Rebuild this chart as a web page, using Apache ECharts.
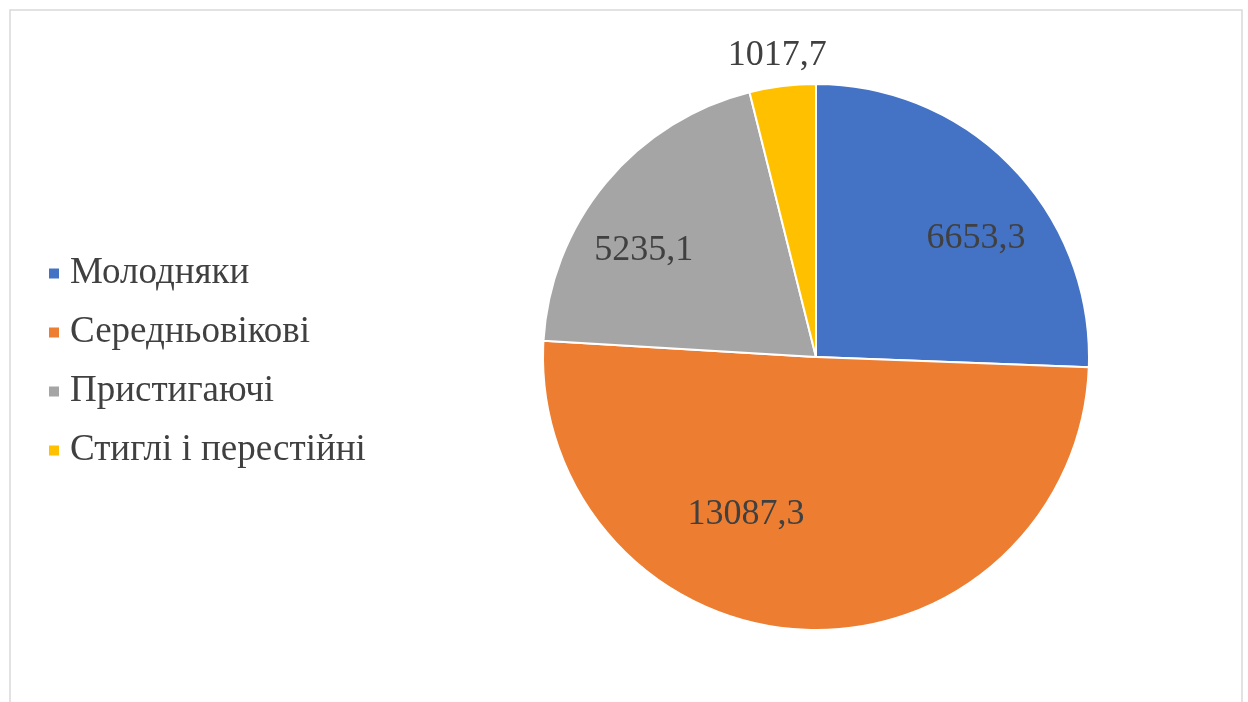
<!DOCTYPE html>
<html><head><meta charset="utf-8">
<script src="https://cdn.jsdelivr.net/npm/echarts@6/dist/echarts.min.js"></script>
<style>html,body{margin:0;padding:0;background:#fff}#c{width:1248px;height:702px}</style>
</head><body><div id="c"></div>
<script>
const categories = ['Молодняки', 'Середньовікові', 'Пристигаючі', 'Стиглі і перестійні'];
const values = [6653.3, 13087.3, 5235.1, 1017.7];
const colors = ['#4472C4', '#ED7D31', '#A5A5A5', '#FFC000'];

const fmt = v => String(v.toFixed(1)).replace('.', ',');
const font = '"Liberation Serif", "DejaVu Serif", serif';
const chart = echarts.init(document.getElementById('c'), null, {renderer: 'canvas'});
const data = categories.map((n, i) => ({name: n, value: values[i], itemStyle: {color: colors[i]}}));
const labelData = categories.map((n, i) => ({name: n, value: values[i]}));
// label nudges (style only)
const labelShift = [[26, 11], [-61, -28], [-29, 12], [-16, -117]];

chart.setOption({
  animation: false,
  backgroundColor: '#fff',
  graphic: [{type: 'rect', shape: {x: 10, y: 10, width: 1232, height: 700}, style: {fill: 'none', stroke: '#d9d9d9', lineWidth: 1.5}}],
  legend: {
    orient: 'vertical', left: 42, top: 250, itemWidth: 12, itemHeight: 12, itemGap: 22,
    icon: 'rect', data: categories,
    textStyle: {fontFamily: font, fontSize: 37, color: '#404040', padding: [0, 0, 0, 5]}
  },
  series: [{
    type: 'pie', center: [816, 357], radius: [0, 273], startAngle: 90, clockwise: true,
    data: data, silent: true,
    itemStyle: {borderColor: '#fff', borderWidth: 2},
    label: {show: false}, labelLine: {show: false}
  }, {
    type: 'pie', center: [816, 357], radius: [150, 216], startAngle: 90, clockwise: true,
    data: labelData, silent: true, legendHoverLink: false,
    itemStyle: {color: 'rgba(0,0,0,0)'},
    label: {show: true, position: 'inside', formatter: p => fmt(p.value), fontFamily: font, fontSize: 36, color: '#404040'},
    labelLine: {show: false},
    labelLayout: function (p) {
      return {dx: labelShift[p.dataIndex][0], dy: labelShift[p.dataIndex][1]};
    }
  }]
});
</script></body></html>
